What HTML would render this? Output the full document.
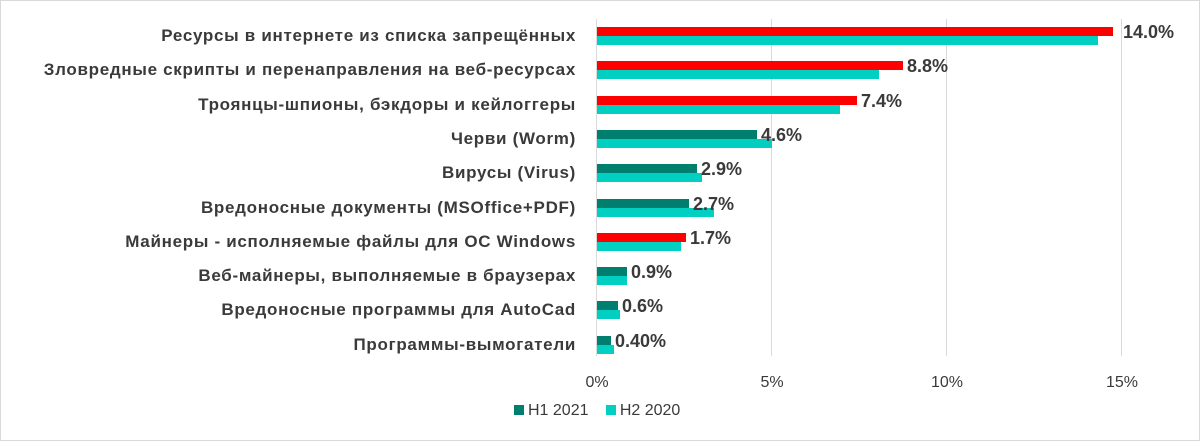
<!DOCTYPE html>
<html><head><meta charset="utf-8"><style>
body{margin:0;background:#fff}
#c{position:relative;width:1198px;height:439px;border:1px solid #d9d9d9;background:#fff;font-family:"Liberation Sans","DejaVu Sans",sans-serif;color:#3a3a3a;overflow:hidden}
.g{position:absolute;top:18px;height:337px;width:1px;background:#d9d9d9}
.b{position:absolute;height:9px}
.cat{position:absolute;right:623px;font-size:17px;font-weight:bold;letter-spacing:0.7px;white-space:nowrap;text-align:right}
.v{position:absolute;font-size:18px;font-weight:bold;white-space:nowrap}
.t{position:absolute;top:373px;font-size:16px;transform:translateX(-50%)}
</style></head><body><div id="c">
<div class="g" style="left:595px"></div><div class="g" style="left:770px"></div><div class="g" style="left:945px"></div><div class="g" style="left:1120px"></div>
<div id="bars"></div>
<div class="t" style="left:596px">0%</div><div class="t" style="left:771px">5%</div><div class="t" style="left:946px">10%</div><div class="t" style="left:1121px">15%</div>
<div style="position:absolute;top:401px;left:513px;font-size:16px;white-space:nowrap"><span style="display:inline-block;width:10px;height:10px;background:#007f6e;margin-right:4px"></span>H1 2021 &nbsp; <span style="display:inline-block;width:10px;height:10px;background:#00cfc1;margin-right:4px;margin-left:4px"></span>H2 2020</div>
</div>
<script>
var d=[["Ресурсы в интернете из списка запрещённых",1112,1097,1,"14.0%"],
["Зловредные скрипты и перенаправления на веб-ресурсах ",902,878,1,"8.8%"],
["Троянцы-шпионы, бэкдоры и кейлоггеры",856,839,1,"7.4%"],
["Черви (Worm)",756,771,0,"4.6%"],
["Вирусы (Virus)",696,701,0,"2.9%"],
["Вредоносные документы (MSOffice+PDF)",688,713,0,"2.7%"],
["Майнеры - исполняемые файлы для ОС Windows",685,680,1,"1.7%"],
["Веб-майнеры, выполняемые в браузерах",626,626,0,"0.9%"],
["Вредоносные программы для AutoCad",617,619,0,"0.6%"],
["Программы-вымогатели",610,613,0,"0.40%"]];
var h="";
d.forEach(function(r,i){var y=26+34.3*i;
h+='<div class="b" style="left:596px;top:'+y+'px;width:'+(r[1]-596)+'px;background:'+(r[3]?'#ff0000':'#007f6e')+'"></div>';
h+='<div class="b" style="left:596px;top:'+(y+9)+'px;width:'+(r[2]-596)+'px;background:#00cfc1"></div>';
h+='<div class="cat" style="top:'+(y-1)+'px">'+r[0]+'</div>';
h+='<div class="v" style="top:'+(y-5)+'px;left:'+(r[1]+(i==0?10:4))+'px">'+r[4]+'</div>';});
document.getElementById("bars").innerHTML=h;
</script></body></html>
